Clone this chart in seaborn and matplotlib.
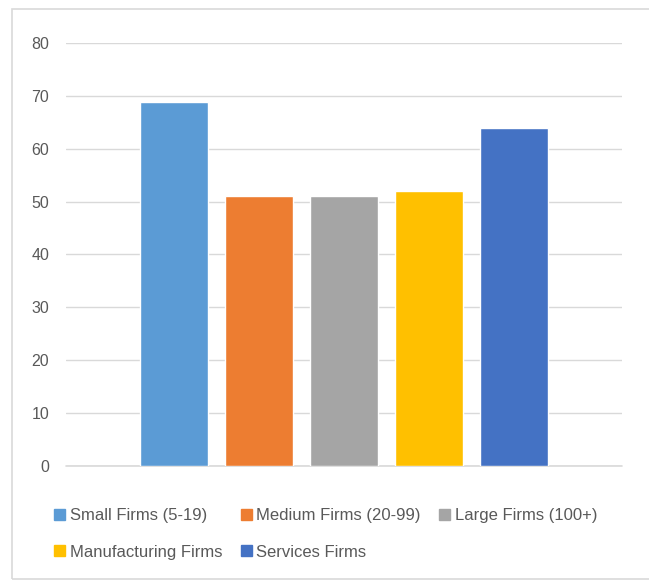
import matplotlib
matplotlib.use("Agg")
import matplotlib.pyplot as plt
import matplotlib.patches as mpatches
import seaborn as sns

# -----------------------------
# Data
# -----------------------------
categories = [
    'Small Firms (5-19)',
    'Medium Firms (20-99)',
    'Large Firms (100+)',
    'Manufacturing Firms',
    'Services Firms',
]
values = [68.8, 51.1, 51.1, 52.1, 64.0]
colors = ['#5B9BD5', '#ED7D31', '#A5A5A5', '#FFC000', '#4472C4']
y_ticks = [0, 10, 20, 30, 40, 50, 60, 70, 80]

# -----------------------------
# Style
# -----------------------------
sns.set_style('white')
plt.rcParams['font.family'] = ['Liberation Sans', 'DejaVu Sans']

W, H = 649, 581
fig = plt.figure(figsize=(W / 100, H / 100), dpi=100)

# axes placed in pixel terms
left, right, top, bottom = 66, 622, 43, 466
ax = fig.add_axes([left / W, (H - bottom) / H, (right - left) / W, (bottom - top) / H])

sns.barplot(
    x=categories,
    y=values,
    hue=categories,
    palette=colors,
    width=0.8,
    saturation=1,
    legend=False,
    ax=ax,
)

ax.set_xlim(-1.27, 5.27)
ax.set_ylim(0, 80)
ax.set_yticks(y_ticks)
ax.set_xticks([])
ax.set_xlabel('')
ax.set_ylabel('')

ax.grid(axis='y', color='#D9D9D9', linewidth=1.0)
ax.set_axisbelow(True)
ax.axhline(0, color='#D9D9D9', linewidth=1.2, clip_on=False, zorder=0.5)
for s in ax.spines.values():
    s.set_visible(False)
ax.tick_params(axis='y', length=0, pad=12, labelsize=11.5, labelcolor='#595959')

# -----------------------------
# Legend (row-wise order: matplotlib fills by column)
# -----------------------------
order = [0, 3, 1, 4, 2]
handles = [mpatches.Patch(color=colors[i]) for i in order]
labels = [categories[i] for i in order]
fig.legend(
    handles, labels,
    ncol=3,
    loc='upper left',
    bbox_to_anchor=(54 / W, (H - 508) / H),
    frameon=False,
    borderpad=0,
    borderaxespad=0,
    handlelength=0.65,
    handleheight=0.65,
    handletextpad=0.3,
    columnspacing=1.1,
    labelspacing=1.3,
    prop={'size': 12},
    labelcolor='#595959',
)

# chart border
fig.patches.append(mpatches.Rectangle(
    (12 / W, 2 / H), 1.0, (H - 11) / H,
    transform=fig.transFigure, fill=False, edgecolor='#D9D9D9', linewidth=1.2,
))

fig.savefig('out.png', dpi=100, facecolor='white')
